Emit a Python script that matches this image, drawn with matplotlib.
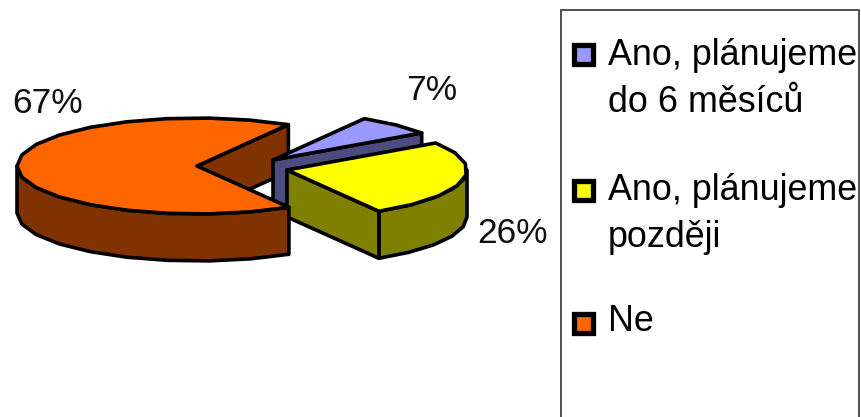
import numpy as np
import matplotlib
matplotlib.use("Agg")
import matplotlib.pyplot as plt
from matplotlib.patches import Polygon, Rectangle

labels = ["Ano, plánujeme\ndo 6 měsíců", "Ano, plánujeme\npozději", "Ne"]
values = [7, 26, 67]
value_labels = ["7%", "26%", "67%"]
top_colors = ["#9999FF", "#FFFF00", "#FF6600"]
side_colors = ["#4C4C80", "#808000", "#803300"]

W, H = 862, 417
plt.rcParams["font.family"] = ["Liberation Sans", "DejaVu Sans"]
fig = plt.figure(figsize=(W / 100, H / 100), dpi=100)
ax = fig.add_axes([0, 0, 1, 1])
ax.set_xlim(0, W)
ax.set_ylim(H, 0)
ax.axis("off")

RX, RY, DEPTH = 180, 48, 47
LW = 2.6
FIRST_ANGLE = 59.5
centers = [(273, 160), (287, 170), (197, 166)]


def arc(center, a0, a1, step=14):
    n = max(2, int(abs(a1 - a0) / step) + 2)
    t = np.radians(np.linspace(a0, a1, n))
    return np.column_stack([center[0] + RX * np.cos(t), center[1] - RY * np.sin(t)])


def poly(points, color, z):
    ax.add_patch(Polygon(points, closed=True, facecolor=color, edgecolor="black",
                         linewidth=LW, joinstyle="round", zorder=z))


def down(points):
    return points + np.array([0, DEPTH])


def side_strip(center, a0, a1, color, z):
    a = arc(center, a0, a1)
    poly(np.vstack([a, down(a)[::-1]]), color, z)


def radial_wall(center, angle, color, z):
    c = np.array(center, dtype=float)
    e = arc(center, angle, angle)[0]
    poly(np.array([c, e, e + [0, DEPTH], c + [0, DEPTH]]), color, z)


# slice angles run clockwise from the first slice, derived from the values
spans = [v / sum(values) * 360 for v in values]
a_blue_hi = FIRST_ANGLE
a_blue_lo = a_blue_hi - spans[0]
a_yel_hi = a_blue_lo
a_yel_lo = a_yel_hi - spans[1]
a_or_lo = FIRST_ANGLE
a_or_hi = a_or_lo + spans[2]

# orange inner wall sits at the back
radial_wall(centers[2], a_or_lo, side_colors[2], 1)

# blue slice
radial_wall(centers[0], a_blue_lo, side_colors[0], 2)
poly(np.vstack([[centers[0]], arc(centers[0], a_blue_lo, a_blue_hi)]), top_colors[0], 3)

# yellow slice
side_strip(centers[1], a_yel_lo, 0, side_colors[1], 4)
radial_wall(centers[1], a_yel_lo, side_colors[1], 4)
poly(np.vstack([[centers[1]], arc(centers[1], a_yel_lo, a_yel_hi)]), top_colors[1], 5)

# orange slice
side_strip(centers[2], 180, a_or_hi, side_colors[2], 6)
poly(np.vstack([[centers[2]], arc(centers[2], a_or_lo, a_or_hi)]), top_colors[2], 7)

# value labels
label_pos = [(406, 100), (477, 243), (12, 113)]
for txt, (x, y) in zip(value_labels, label_pos):
    ax.text(x, y, txt, fontsize=25.5, color="#101010", ha="left", va="baseline", zorder=10)

# legend frame, open at the bottom edge of the picture
ax.plot([561, 561, 859, 859], [H + 5, 10, 10, H + 5], color="#333333", lw=1.2, zorder=8,
        solid_joinstyle="miter")

key_y = [54, 190, 323]
first_base = [65, 200, 331]
for lab, col, ky, base in zip(labels, top_colors, key_y, first_base):
    ax.add_patch(Rectangle((574.5, ky - 9.5), 19, 19, facecolor=col, edgecolor="black",
                           linewidth=3.8, zorder=9))
    for i, line in enumerate(lab.split("\n")):
        ax.text(608, base + i * 47, line, fontsize=25.8, color="black", ha="left",
                va="baseline", zorder=10)

fig.savefig("out.png", dpi=100)
